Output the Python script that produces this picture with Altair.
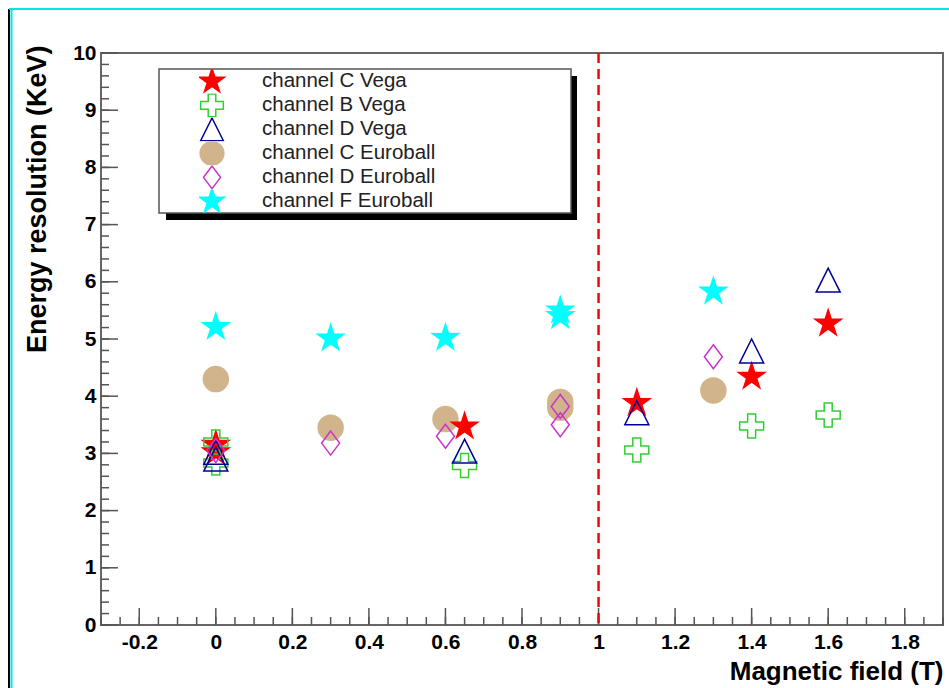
import altair as alt
import pandas as pd

# ---------------- data ----------------
series = ["channel C Vega", "channel B Vega", "channel D Vega",
          "channel C Euroball", "channel D Euroball", "channel F Euroball"]

c_vega_x = [0.0, 0.0, 0.65, 1.1, 1.4, 1.6]
c_vega_y = [3.15, 3.02, 3.47, 3.88, 4.34, 5.27]

b_vega_x = [0.0, 0.0, 0.65, 1.1, 1.4, 1.6]
b_vega_y = [3.2, 2.83, 2.79, 3.06, 3.48, 3.67]

d_vega_x = [0.0, 0.0, 0.65, 1.1, 1.4, 1.6]
d_vega_y = [3.02, 2.9, 3.04, 3.71, 4.79, 6.03]

c_euro_x = [0.0, 0.3, 0.6, 0.9, 0.9, 1.3]
c_euro_y = [4.3, 3.45, 3.6, 3.9, 3.8, 4.1]

d_euro_x = [0.0, 0.3, 0.6, 0.9, 0.9, 1.3]
d_euro_y = [3.05, 3.18, 3.3, 3.82, 3.5, 4.69]

f_euro_x = [0.0, 0.3, 0.6, 0.9, 0.9, 1.3]
f_euro_y = [5.21, 5.01, 5.02, 5.5, 5.4, 5.83]

threshold_x = [1.0]

x_major = [-0.2, 0.0, 0.2, 0.4, 0.6, 0.8, 1.0, 1.2, 1.4, 1.6, 1.8]
x_minor = [round(-0.3 + 0.05 * i, 2) for i in range(45)]
y_major = list(range(0, 11))
y_minor = [round(0.2 * i, 1) for i in range(51)]

rows = []
for name, xs, ys in zip(series,
                        [c_vega_x, b_vega_x, d_vega_x, c_euro_x, d_euro_x, f_euro_x],
                        [c_vega_y, b_vega_y, d_vega_y, c_euro_y, d_euro_y, f_euro_y]):
    for xv, yv in zip(xs, ys):
        rows.append({"series": name, "B": xv, "E": yv,
                     "order": 0 if name == "channel C Euroball" else 1})
df = pd.DataFrame(rows)

# ---------------- styles ----------------
STAR = ("M0,-1.1L0.245,-0.338L1.046,-0.34L0.397,0.129L0.647,0.89L0,0.418"
        "L-0.647,0.89L-0.397,0.129L-1.046,-0.34L-0.245,-0.338Z")
CROSS = ("M-0.32,-0.96L0.32,-0.96L0.32,-0.32L0.96,-0.32L0.96,0.32L0.32,0.32"
         "L0.32,0.96L-0.32,0.96L-0.32,0.32L-0.96,0.32L-0.96,-0.32L-0.32,-0.32Z")
TRI = "M0,-0.96L0.96,0.96L-0.96,0.96Z"
DIAM = "M0,-0.96L0.72,0L0,0.96L-0.72,0Z"

shapes = [STAR, CROSS, TRI, "circle", DIAM, STAR]
strokes = ["#ff0000", "#33cc33", "#000099", "#d2b48c", "#cc33cc", "#00ffff"]
fills = ["#ff0000", "transparent", "transparent", "#d2b48c", "transparent", "#00ffff"]

W, H = 842, 572
xscale = alt.Scale(domain=[-0.3, 1.9], nice=False, zero=False)
yscale = alt.Scale(domain=[0, 10], nice=False, zero=False)

xaxis = alt.Axis(
    values=x_major, tickSize=0, domain=False, grid=False, ticks=False,
    labelExpr="replace(format(datum.value, '~g'), '\u2212', '-')",
    labelFont="Liberation Sans", labelFontWeight="bold", labelFontSize=21,
    labelColor="#000000", labelPadding=6, labelBaseline="top",
    labelFlush=False, labelOverlap=False,
    title="Magnetic field (T)", titleFont="Liberation Sans",
    titleFontWeight="bold", titleFontSize=26, titleColor="#000000",
    titleAnchor="end", titleAlign="right", titleX=W, titleY=54,
    titleBaseline="alphabetic")
yaxis = alt.Axis(
    values=y_major, tickSize=0, domain=False, grid=False, ticks=False,
    labelFont="Liberation Sans", labelFontWeight="bold", labelFontSize=21,
    labelColor="#000000", labelPadding=5, labelFlush=False,
    labelOverlap=False,
    title="Energy resolution (KeV)", titleFont="Liberation Sans",
    titleFontWeight="bold", titleFontSize=27, titleColor="#000000",
    titleAnchor="end", titleAngle=-90, titleAlign="right",
    titleX=-56, titleY=-8, titleBaseline="alphabetic")

legend = alt.Legend(
    title=None, orient="none", legendX=98, legendY=16.5,
    padding=0, rowPadding=0, clipHeight=23.7, symbolSize=560,
    symbolStrokeWidth=1.5,
    labelOffset=37, labelFont="Liberation Sans", labelFontSize=20.5,
    labelColor="#222222", labelLimit=400,
)

points = alt.Chart(df).mark_point(size=625, strokeWidth=1.5, opacity=1).encode(
    x=alt.X("B:Q", scale=xscale, axis=xaxis),
    y=alt.Y("E:Q", scale=yscale, axis=yaxis),
    shape=alt.Shape("series:N", scale=alt.Scale(domain=series, range=shapes), legend=legend),
    stroke=alt.Stroke("series:N", scale=alt.Scale(domain=series, range=strokes), legend=legend),
    fill=alt.Fill("series:N", scale=alt.Scale(domain=series, range=fills), legend=legend),
    order=alt.Order("order:Q"),
)

one = pd.DataFrame({"k": [0]})

shadow = alt.Chart(one).mark_rect(color="#000000").encode(
    x=alt.value(65), x2=alt.value(476), y=alt.value(23), y2=alt.value(167))
box = alt.Chart(one).mark_rect(fill="#ffffff", stroke="#555555", strokeWidth=1.5).encode(
    x=alt.value(58), x2=alt.value(470), y=alt.value(16), y2=alt.value(160))

xmaj = alt.Chart(pd.DataFrame({"B": x_major})).mark_rule(color="#555555", strokeWidth=1.5).encode(
    x=alt.X("B:Q", scale=xscale, axis=xaxis), y=alt.value(H), y2=alt.value(H - 17))
xmin = alt.Chart(pd.DataFrame({"B": x_minor})).mark_rule(color="#555555", strokeWidth=1.5).encode(
    x=alt.X("B:Q", scale=xscale, axis=xaxis), y=alt.value(H), y2=alt.value(H - 8))
ymaj = alt.Chart(pd.DataFrame({"E": y_major})).mark_rule(color="#555555", strokeWidth=1.5).encode(
    y=alt.Y("E:Q", scale=yscale, axis=yaxis), x=alt.value(0), x2=alt.value(17))
ymin = alt.Chart(pd.DataFrame({"E": y_minor})).mark_rule(color="#555555", strokeWidth=1.5).encode(
    y=alt.Y("E:Q", scale=yscale, axis=yaxis), x=alt.value(0), x2=alt.value(8))

vline = alt.Chart(pd.DataFrame({"B": threshold_x})).mark_rule(
    color="#ff0000", strokeDash=[10, 6], strokeWidth=2.5).encode(
    x=alt.X("B:Q", scale=xscale, axis=xaxis))

edge_black = alt.Chart(one).mark_rule(color="#000000", strokeWidth=2).encode(
    x=alt.value(-92), y=alt.value(-44), y2=alt.value(640))
edge_cyan_v = alt.Chart(one).mark_rule(color="#00e5ee", strokeWidth=2).encode(
    x=alt.value(-89.5), y=alt.value(-43), y2=alt.value(640))
edge_cyan_h = alt.Chart(one).mark_rule(color="#00e5ee", strokeWidth=2).encode(
    y=alt.value(-44), x=alt.value(-92), x2=alt.value(860))

chart = alt.layer(
    edge_black, edge_cyan_v, edge_cyan_h,
    xmin, xmaj, ymin, ymaj, vline, shadow, box, points
).properties(
    width=W, height=H,
    autosize=alt.AutoSizeParams(type="none"),
    padding={"left": 101, "top": 53, "right": 6, "bottom": 63},
    background="#ffffff",
).configure_view(stroke="#666666", strokeWidth=2)

chart.save("out.html", embed_options={"renderer": "svg", "actions": False})
